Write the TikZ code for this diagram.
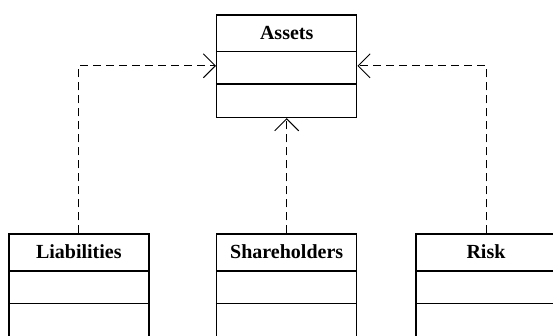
\documentclass[tikz,border=0pt]{standalone}
\usepackage{fontspec}
\setmainfont{Liberation Serif}
\usetikzlibrary{arrows.meta}
\begin{document}
\begin{tikzpicture}[x=1pt,y=-1pt,
  cls/.style={draw, line width=1.5pt, minimum width=140pt, inner sep=0pt, anchor=north},
  ttl/.style={anchor=base, font=\fontsize{20}{24}\selectfont\bfseries, inner sep=0pt},
  divider/.style={line width=1.5pt},
  dep/.style={line width=0.9pt, dash pattern=on 8pt off 5pt,
    -{Straight Barb[length=12pt,width=24pt,line width=0.9pt]}}
]
\useasboundingbox (0,0) rectangle (553,335);
\clip (0,0) rectangle (553,335);
\fill[white] (0,0) rectangle (553,335);

% Assets
\node[cls, minimum height=102.7pt] (assets) at (286.7,14) {};
\node[ttl] (assetsT) at ([yshift=-25pt]assets.north) {Assets};
\draw[divider] ([yshift=-37.7pt]assets.north west) -- ([yshift=-37.7pt]assets.north east);
\draw[divider] ([yshift=-70pt]assets.north west) -- ([yshift=-70pt]assets.north east);

% Bottom classes
\foreach \n/\x/\t in {lia/78.8/Liabilities, sha/286.7/Shareholders, risk/486/Risk}{
  \node[cls, minimum height=103pt] (\n) at (\x,233.3) {};
  \node[ttl] (\n T) at ([yshift=-25.5pt]\n.north) {\t};
  \draw[divider] ([yshift=-37.7pt]\n.north west) -- ([yshift=-37.7pt]\n.north east);
  \draw[divider] ([yshift=-70pt]\n.north west) -- ([yshift=-70pt]\n.north east);
}

% Dependencies
\draw[dep] (lia.north) |- ([yshift=0.3pt]assets.west);
\draw[dep] (sha.north) -- (assets.south);
\draw[dep] (risk.north) |- ([yshift=0.3pt]assets.east);
\end{tikzpicture}
\end{document}
